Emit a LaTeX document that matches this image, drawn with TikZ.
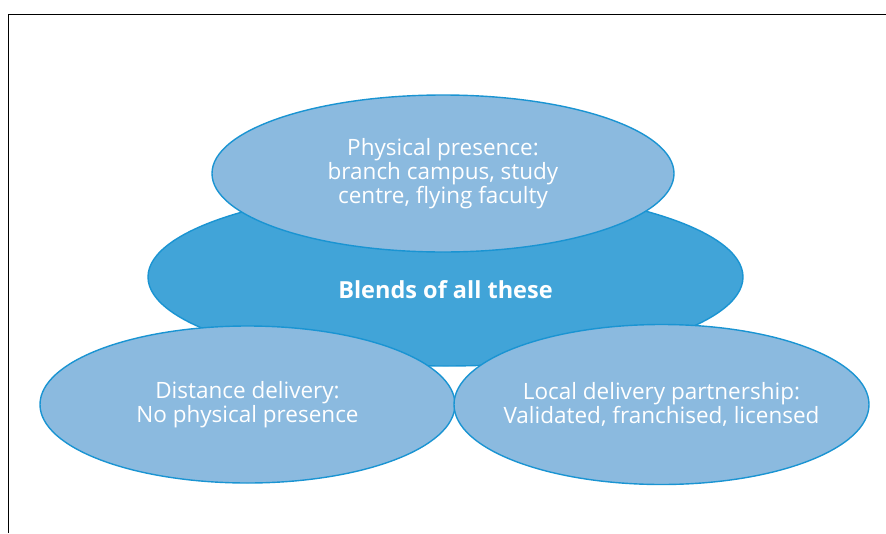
\documentclass[tikz,border=0pt]{standalone}
\usepackage{fontspec}
\setmainfont{Open Sans}
\usetikzlibrary{shapes.geometric}
\definecolor{ringblue}{HTML}{1A94D2}
\definecolor{darkfill}{HTML}{41A4D8}
\definecolor{lightfill}{HTML}{8BBADF}
\begin{document}
\begin{tikzpicture}[x=1pt,y=-1pt,
  blob/.style={ellipse, draw=ringblue, line width=1.4pt, inner sep=-30pt,
    text=white, align=center, font=\fontsize{22.5}{24}\selectfont},
  outer/.style={blob, fill=lightfill},
  core/.style={blob, fill=darkfill, text height=48pt, text depth=5pt,
    font=\fontsize{23.5}{26}\selectfont\bfseries}]
  \useasboundingbox (0,0) rectangle (886,533);
  % frame corner
  \draw[black, line width=1.5pt] (8.5,533) -- (8.5,14.5) -- (886,14.5);

  \node[core, minimum width=595, minimum height=178] (blend) at (445.5,277) {Blends of all these};
  \node[outer, minimum width=462, minimum height=157] (physical) at (443,173.5)
    {Physical presence:\\branch campus, study\\centre, flying faculty};
  \node[outer, minimum width=415, minimum height=157] (distance) at (247.5,404.5)
    {Distance delivery:\\No physical presence};
  \node[outer, minimum width=415, minimum height=160] (local) at (661.5,404.5)
    {Local delivery partnership:\\Validated, franchised, licensed};
\end{tikzpicture}
\end{document}
